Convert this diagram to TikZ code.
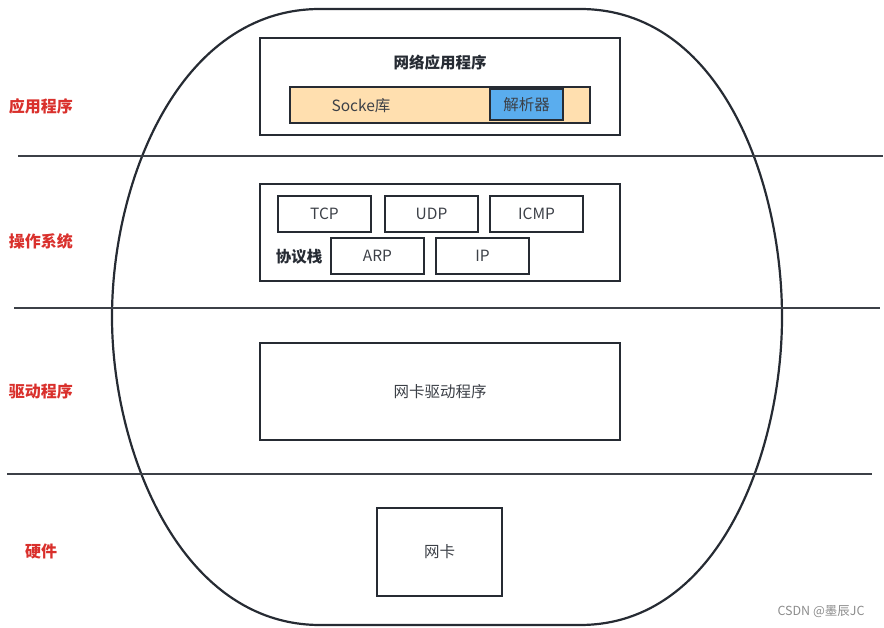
\documentclass[tikz,border=0pt]{standalone}
\usepackage{fontspec}
\setmainfont{Noto Sans CJK SC}
\definecolor{ink}{HTML}{262B33}
\definecolor{lab}{HTML}{D9302C}
\definecolor{peach}{HTML}{FFDFAF}
\definecolor{skyb}{HTML}{5AADEE}
\begin{document}
\begin{tikzpicture}[x=1pt,y=-1pt,
  box/.style={draw=ink,line width=2.2pt,rectangle,inner sep=0pt},
  txt/.style={font=\fontsize{15.5}{17}\selectfont,text=ink!90!white},
  btxt/.style={font=\fontsize{15.5}{17}\selectfont\bfseries,text=ink},
  lbl/.style={font=\fontsize{16}{18}\selectfont\bfseries,text=lab},
  sep/.style={draw=ink!90!white,line width=2.2pt}]
\useasboundingbox (0,0) rectangle (884,628);
% outer blob
\draw[ink,line width=2.2pt] (320,9) -- (580,9)
  .. controls (720,9) and (782,180) .. (782,317)
  .. controls (782,450) and (720,625) .. (580,625)
  -- (320,625)
  .. controls (180,625) and (112,450) .. (112,317)
  .. controls (112,180) and (180,9) .. (320,9) -- cycle;
% separators
\coordinate (s1a) at (18,156); \coordinate (s1b) at (883,156);
\coordinate (s2a) at (14,308); \coordinate (s2b) at (880,308);
\coordinate (s3a) at (7,474); \coordinate (s3b) at (872,474);
\draw[sep] (s1a) -- (s1b);
\draw[sep] (s2a) -- (s2b);
\draw[sep] (s3a) -- (s3b);
% layer labels
\node[lbl] (l1) at (41,106) {应用程序};
\node[lbl] (l2) at (41,241) {操作系统};
\node[lbl] (l3) at (41,391) {驱动程序};
\node[lbl] (l4) at (41,551) {硬件};
% application box
\node[box,minimum width=360pt,minimum height=97pt] (app) at (440,86.5) {};
\node[btxt] (apptitle) at (440,63) {网络应用程序};
\node[box,fill=peach,minimum width=300pt,minimum height=36pt] (sock) at (440,105) {};
\node[txt] (socktxt) at (361,106) {Socke库};
\node[box,txt,fill=skyb,minimum width=73pt,minimum height=31pt] (parser) at (526.5,104.5) {解析器};
% OS box
\node[box,minimum width=360pt,minimum height=97pt] (os) at (440,232.5) {};
\node[box,txt,minimum width=93pt,minimum height=36pt] (tcp) at (324.5,214) {TCP};
\node[box,txt,minimum width=93pt,minimum height=36pt] (udp) at (431.5,214) {UDP};
\node[box,txt,minimum width=93pt,minimum height=36pt] (icmp) at (536.5,214) {ICMP};
\node[box,txt,minimum width=93pt,minimum height=36pt] (arp) at (377.5,256) {ARP};
\node[box,txt,minimum width=93pt,minimum height=36pt] (ip) at (482.5,256) {IP};
\node[btxt] (stack) at (299,257) {协议栈};
% driver box
\node[box,txt,minimum width=360pt,minimum height=97pt] (drv) at (440,391.5) {网卡驱动程序};
% NIC
\node[box,txt,minimum width=125pt,minimum height=88pt] (nic) at (439.5,552) {网卡};
% watermark
\node[font=\fontsize{12.5}{14}\selectfont,text=black!45] (wm) at (821,612) {CSDN @墨辰JC};
\end{tikzpicture}
\end{document}
